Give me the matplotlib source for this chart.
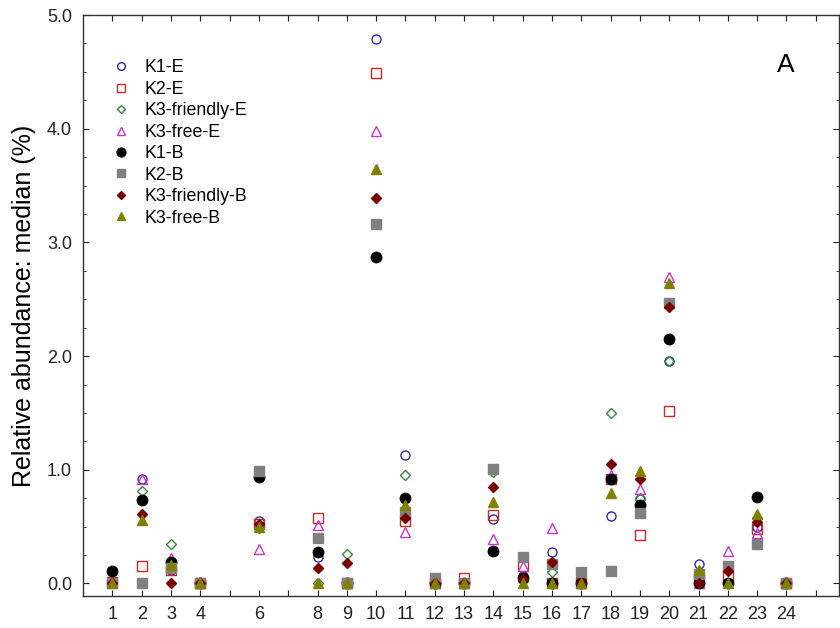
import matplotlib
matplotlib.use('Agg')
import matplotlib.pyplot as plt
from matplotlib.ticker import MultipleLocator, FixedLocator

plt.rcParams['font.family'] = ['Liberation Sans', 'DejaVu Sans']

# categorias no eixo x
grupos = [1, 2, 3, 4, 6, 8, 9, 10, 11, 12, 13, 14, 15, 16, 17, 18, 19, 20, 21, 22, 23, 24]

# medianas (%) por serie
k1_e = [0.02, 0.92, 0.12, 0.0, 0.55, 0.23, 0.0, 4.79, 1.13, 0.0, 0.0, 0.57, 0.07, 0.28, 0.0, 0.59, 0.74, 1.96, 0.17, 0.0, 0.50, 0.0]
k2_e = [0.01, 0.15, 0.12, 0.0, 0.52, 0.58, 0.0, 4.49, 0.55, 0.0, 0.05, 0.60, 0.15, 0.0, 0.0, 0.92, 0.43, 1.52, 0.05, 0.07, 0.48, 0.0]
k3_friendly_e = [0.01, 0.81, 0.35, 0.0, 0.49, 0.0, 0.26, 2.87, 0.95, 0.0, 0.0, 0.98, 0.02, 0.10, 0.0, 1.50, 0.75, 1.96, 0.05, 0.0, 0.58, 0.0]
k3_free_e = [0.01, 0.92, 0.22, 0.0, 0.30, 0.51, 0.0, 3.98, 0.45, 0.0, 0.0, 0.39, 0.15, 0.49, 0.0, 0.95, 0.83, 2.70, 0.0, 0.29, 0.44, 0.0]
k1_b = [0.11, 0.73, 0.19, 0.0, 0.94, 0.28, 0.0, 2.87, 0.75, 0.0, 0.0, 0.29, 0.05, 0.0, 0.0, 0.92, 0.69, 2.15, 0.0, 0.0, 0.76, 0.0]
k2_b = [0.0, 0.0, 0.14, 0.0, 0.99, 0.40, 0.0, 3.16, 0.63, 0.05, 0.0, 1.01, 0.23, 0.17, 0.10, 0.11, 0.62, 2.47, 0.08, 0.15, 0.35, 0.0]
k3_friendly_b = [0.0, 0.61, 0.0, 0.0, 0.52, 0.14, 0.18, 3.39, 0.58, 0.0, 0.0, 0.85, 0.04, 0.19, 0.0, 1.05, 0.92, 2.43, 0.0, 0.11, 0.54, 0.0]
k3_free_b = [0.0, 0.56, 0.16, 0.0, 0.50, 0.0, 0.0, 3.65, 0.69, 0.0, 0.0, 0.72, 0.0, 0.0, 0.0, 0.80, 0.99, 2.64, 0.12, 0.0, 0.61, 0.0]

series = [
    ('K1-E', k1_e, 'o', 'none', '#2a2aa8'),
    ('K2-E', k2_e, 's', 'none', '#cc2a2a'),
    ('K3-friendly-E', k3_friendly_e, 'D', 'none', '#3a8a3a'),
    ('K3-free-E', k3_free_e, '^', 'none', '#cc33cc'),
    ('K1-B', k1_b, 'o', 'black', 'black'),
    ('K2-B', k2_b, 's', '#808080', '#808080'),
    ('K3-friendly-B', k3_friendly_b, 'D', '#7a0000', '#7a0000'),
    ('K3-free-B', k3_free_b, '^', '#808000', '#808000'),
]

fig = plt.figure(figsize=(8.4, 6.28), dpi=100)
ax = fig.add_axes([0.099, 0.051, 0.9, 0.925])

for nome, valores, marcador, preench, cor in series:
    tam = 6.5
    if marcador == 'D':
        tam = 4.8
    if preench != 'none' and marcador == 'o':
        tam = 7.5
    ax.plot(grupos, valores, linestyle='none', marker=marcador, markersize=tam,
            markerfacecolor=preench, markeredgecolor=cor, markeredgewidth=1.0,
            label=nome)

ax.set_xlim(0, 25.8)
ax.set_ylim(-0.11, 5.0)

# ticks do eixo x: todos os inteiros, rotulo so onde ha dados
ticks_x = list(range(1, 26))
ax.xaxis.set_major_locator(FixedLocator(ticks_x))
ax.set_xticklabels([str(t) if t in grupos else '' for t in ticks_x])

ax.yaxis.set_major_locator(MultipleLocator(1.0))
ax.yaxis.set_minor_locator(MultipleLocator(0.25))
ax.yaxis.set_major_formatter(plt.FormatStrFormatter('%.1f'))

ax.tick_params(axis='both', which='both', direction='in', top=True, right=True,
               labelsize=13, colors='#222222')
ax.tick_params(axis='both', which='major', length=4)
ax.tick_params(axis='both', which='minor', length=2.5)
ax.tick_params(axis='x', pad=7)
ax.tick_params(axis='y', pad=8)

for lado in ax.spines.values():
    lado.set_color('#333333')
    lado.set_linewidth(1.0)

ax.set_ylabel('Relative abundance: median (%)', fontsize=18, labelpad=8)

ax.text(0.93, 0.914, 'A', transform=ax.transAxes, fontsize=19, ha='center', va='center')

ax.legend(loc='upper left', bbox_to_anchor=(0.01, 0.945), frameon=False,
          fontsize=12.8, handletextpad=0.3, labelspacing=0.25, borderpad=0.2,
          markerscale=0.85)

plt.savefig('out.png', dpi=100)
